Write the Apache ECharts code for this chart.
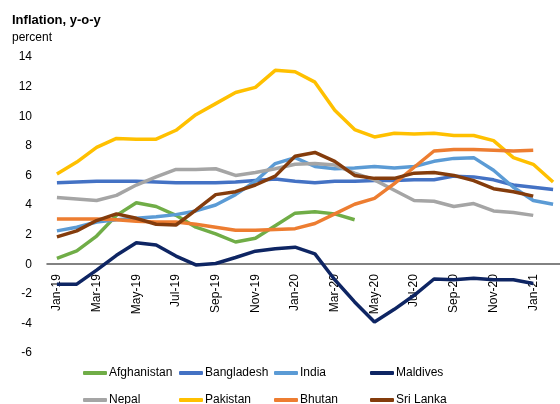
<!DOCTYPE html>
<html>
<head>
<meta charset="utf-8">
<script src="https://cdn.jsdelivr.net/npm/echarts@6/dist/echarts.min.js"></script>
<style>
  html, body { margin: 0; padding: 0; background: #fff; }
  #chart { width: 560px; height: 404px; }
</style>
</head>
<body>
<div id="chart"></div>
<script>
// months Jan-19 .. Feb-21
const months = ["Jan-19", "Feb-19", "Mar-19", "Apr-19", "May-19", "Jun-19", "Jul-19", "Aug-19",
  "Sep-19", "Oct-19", "Nov-19", "Dec-19", "Jan-20", "Feb-20", "Mar-20", "Apr-20", "May-20",
  "Jun-20", "Jul-20", "Aug-20", "Sep-20", "Oct-20", "Nov-20", "Dec-20", "Jan-21", "Feb-21"];

const afghanistan = [0.4, 0.9, 1.9, 3.3, 4.15, 3.9, 3.3, 2.5, 2.05, 1.5, 1.75, 2.6, 3.45, 3.55, 3.4, 3.0];
const bangladesh = [5.5, 5.55, 5.6, 5.6, 5.6, 5.55, 5.5, 5.5, 5.5, 5.55, 5.65, 5.75, 5.6, 5.5, 5.6, 5.6,
  5.65, 5.65, 5.7, 5.7, 5.95, 5.9, 5.7, 5.35, 5.2, 5.05];
const india = [2.25, 2.5, 2.85, 3.0, 3.1, 3.2, 3.35, 3.6, 4.0, 4.7, 5.6, 6.8, 7.2, 6.6, 6.45, 6.5,
  6.6, 6.5, 6.6, 6.95, 7.15, 7.2, 6.35, 5.2, 4.3, 4.05];
const maldives = [-1.35, -1.35, -0.4, 0.6, 1.45, 1.3, 0.55, -0.05, 0.05, 0.45, 0.88, 1.05, 1.15, 0.7,
  -1.05, -2.55, -3.9, -3.05, -2.1, -1.0, -1.05, -0.95, -1.05, -1.05, -1.3];
const nepal = [4.5, 4.4, 4.3, 4.65, 5.35, 5.9, 6.4, 6.4, 6.45, 6.0, 6.2, 6.45, 6.75, 6.8, 6.7, 6.15,
  5.7, 5.0, 4.3, 4.25, 3.9, 4.1, 3.6, 3.5, 3.3];
const pakistan = [6.1, 6.9, 7.9, 8.5, 8.45, 8.45, 9.05, 10.1, 10.85, 11.6, 11.95, 13.1, 13.0, 12.3,
  10.4, 9.1, 8.6, 8.85, 8.8, 8.85, 8.7, 8.7, 8.35, 7.2, 6.75, 5.55];
const bhutan = [3.05, 3.05, 3.05, 3.0, 2.9, 2.85, 2.85, 2.7, 2.5, 2.3, 2.3, 2.35, 2.4, 2.75, 3.4, 4.05,
  4.45, 5.45, 6.55, 7.65, 7.75, 7.75, 7.7, 7.65, 7.7];
const sriLanka = [1.85, 2.25, 2.95, 3.4, 3.1, 2.7, 2.65, 3.65, 4.7, 4.9, 5.35, 5.95, 7.3, 7.55, 6.95,
  6.0, 5.8, 5.8, 6.15, 6.2, 6.0, 5.65, 5.1, 4.9, 4.6];

const names = ["Afghanistan", "Bangladesh", "India", "Maldives", "Nepal", "Pakistan", "Bhutan", "Sri Lanka"];
const values = [afghanistan, bangladesh, india, maldives, nepal, pakistan, bhutan, sriLanka];
const colors = ["#70AD47", "#4472C4", "#5B9BD5", "#0E2563", "#A5A5A5", "#FFC000", "#ED7D31", "#843C0C"];

const legendLeft = [83, 179, 274, 370];
const legendTop = [367, 394];

// plot area: y=14 at 57px, y=-6 at 353px
const gridTop = 57;
const gridHeight = 296;
const yMin = -6;
const yMax = 14;
// move the x axis (line and labels) up to the zero line
const zeroOffset = gridHeight * (0 - yMin) / (yMax - yMin);

const chart = echarts.init(document.getElementById("chart"));

chart.setOption({
  animation: false,
  textStyle: { fontFamily: "Liberation Sans" },
  title: [
    {
      text: "Inflation, y-o-y",
      left: 12,
      top: 14,
      padding: 0,
      textStyle: { fontSize: 13, fontWeight: "bold", color: "#000" },
    },
    {
      text: "percent",
      left: 12,
      top: 32,
      padding: 0,
      textStyle: { fontSize: 12, fontWeight: "normal", color: "#000" },
    },
  ],
  legend: names.map(function (n, i) {
    return {
      data: [n],
      left: legendLeft[i % 4],
      top: legendTop[Math.floor(i / 4)],
      icon: "roundRect",
      itemWidth: 24,
      itemHeight: 4,
      padding: 0,
      textStyle: { fontSize: 12, color: "#000", padding: [0, 0, 0, -3] },
    };
  }),
  grid: {
    left: 47,
    right: -3,
    top: gridTop,
    height: gridHeight,
    containLabel: false,
    outerBoundsMode: "none",
  },
  xAxis: {
    type: "category",
    data: months,
    boundaryGap: true,
    offset: -zeroOffset,
    axisLine: { onZero: false, lineStyle: { color: "#595959", width: 1.5 } },
    axisTick: { show: false },
    axisLabel: {
      interval: 1,
      rotate: 90,
      margin: 10,
      fontSize: 12,
      color: "#000",
    },
  },
  yAxis: {
    type: "value",
    min: yMin,
    max: yMax,
    interval: 2,
    splitLine: { show: false },
    axisLine: { show: false },
    axisTick: { show: false },
    axisLabel: { fontSize: 12, color: "#000", margin: 15 },
  },
  series: names.map(function (n, i) {
    return {
      name: n,
      type: "line",
      data: values[i],
      showSymbol: false,
      symbol: "none",
      lineStyle: { color: colors[i], width: 3.5 },
      itemStyle: { color: colors[i] },
    };
  }),
});
</script>
</body>
</html>
